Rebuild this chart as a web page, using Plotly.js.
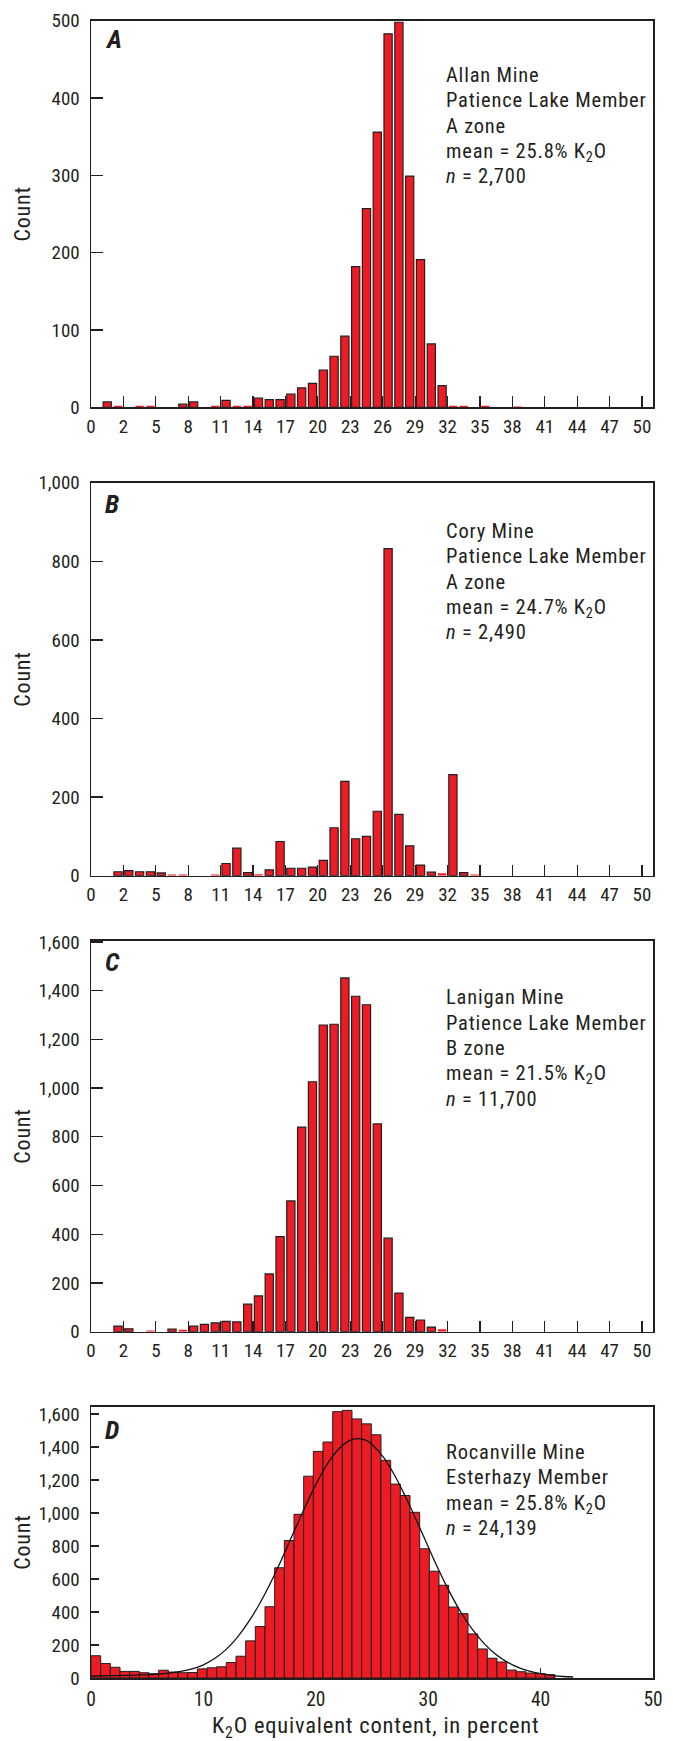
<!DOCTYPE html>
<html>
<head>
<meta charset="utf-8">
<script src="https://cdn.plot.ly/plotly-3.0.1.min.js"></script>
<style>
  html, body { margin: 0; padding: 0; background: #ffffff; }
  #chart { width: 673px; height: 1741px; }
  /* condensed face with slightly open tracking for the panel captions */
  .annotation-text { letter-spacing: 0.8px; }
</style>
</head>
<body>
<div id="chart"></div>
<script>
// ---- Data -------------------------------------------------------------
// Panels A–C: counts in 51 equal bins spanning 0–50 percent K2O.
const countsAllan = [
  0, 7, 2, 0, 2, 2, 0, 0, 4, 7,
  0, 2, 9, 2, 2, 12, 10, 10, 17, 25,
  31, 48, 66, 92, 182, 257, 356, 483, 498, 299,
  191, 82, 28, 2, 2, 0, 2, 0, 0, 1,
  0, 0, 0, 0, 0, 0, 0, 0, 0, 0,
  0
];
const countsCory = [
  0, 0, 10, 13, 10, 10, 7, 3, 3, 0,
  0, 3, 31, 70, 8, 4, 15, 87, 19, 19,
  22, 39, 122, 240, 94, 100, 164, 832, 156, 76,
  27, 9, 6, 257, 8, 3, 0, 0, 0, 0,
  0, 0, 0, 0, 0, 0, 0, 0, 0, 0,
  0
];
const countsLanigan = [
  0, 0, 23, 12, 0, 5, 0, 11, 8, 23,
  30, 36, 42, 40, 113, 147, 237, 390, 537, 840,
  1026, 1259, 1262, 1452, 1377, 1342, 853, 384, 158, 59,
  48, 19, 10, 0, 0, 0, 0, 0, 0, 0,
  0, 0, 0, 0, 0, 0, 0, 0, 0, 0,
  0
];
// Panel D: counts in 0.86-percent bins starting at 0.
const countsRocanville = [
  135, 88, 65, 40, 40, 32, 26, 47, 36, 32,
  33, 55, 62, 68, 94, 132, 225, 312, 432, 668,
  833, 992, 1223, 1373, 1430, 1614, 1622, 1570, 1540, 1474,
  1319, 1175, 1106, 1004, 783, 647, 562, 430, 390, 267,
  176, 120, 97, 48, 38, 30, 26, 20
];
// Fitted distribution curve drawn over panel D.
const curveX = [0, 2, 4, 6, 7, 8, 9, 10, 11, 12, 13, 14, 15, 16, 17, 18, 19, 20, 21, 22,
  23, 23.7, 24.5, 25, 26, 27, 28, 29, 30, 31, 32, 33, 34, 35, 36, 37, 38, 39, 40, 41, 42, 42.9];
const curveY = [12, 14, 18, 24, 30, 40, 56, 80, 118, 172, 245, 338, 450, 580, 725, 878, 1030, 1172, 1295, 1385,
  1438, 1450, 1440, 1415, 1340, 1230, 1095, 948, 795, 645, 508, 388, 288, 207, 144, 98, 64, 41, 26, 16, 9, 6];

const binTickLabels = ['0', '2', '5', '8', '11', '14', '17', '20', '23', '26', '29', '32', '35', '38', '41', '44', '47', '50'];
const percentTicks = [0, 10, 20, 30, 40, 50];

const panelLetters = ['A', 'B', 'C', 'D'];
const panelNotes = [
  ['Allan Mine', 'Patience Lake Member', 'A zone', 'mean = 25.8% K<sub>2</sub>O', '<i>n</i> = 2,700'],
  ['Cory Mine', 'Patience Lake Member', 'A zone', 'mean = 24.7% K<sub>2</sub>O', '<i>n</i> = 2,490'],
  ['Lanigan Mine', 'Patience Lake Member', 'B zone', 'mean = 21.5% K<sub>2</sub>O', '<i>n</i> = 11,700'],
  ['Rocanville Mine', 'Esterhazy Member', 'mean = 25.8% K<sub>2</sub>O', '<i>n</i> = 24,139']
];
const yTitle = 'Count';
const xTitle = 'K<sub>2</sub>O equivalent content, in percent';

// ---- Styling and geometry ----------------------------------------------
const W = 673, H = 1741;
const INK = '#231f20';
const RED = '#ed1c24';
const FONT = 'Roboto Condensed, Liberation Sans, sans-serif';

const plotLeft = 91, plotRight = 653;
const panels = [
  { top: 20.7,   bottom: 407.3,  yMax: 500,  dtick: 100, textTop: 54.3, letterY: 18.3, yTickLen: 12 },
  { top: 482.7,  bottom: 875.7,  yMax: 1000, dtick: 200, textTop: 48.3, letterY: 21.3, yTickLen: 12 },
  { top: 940.7,  bottom: 1331.7, yMax: 1605, dtick: 200, textTop: 56.6, letterY: 21.3, yTickLen: 12 },
  { top: 1406.7, bottom: 1678,   yMax: 1644, dtick: 200, textTop: 45.4, letterY: 23.7, yTickLen: 8 }
];
const lineGap = 25.3;
const xDomain = [plotLeft / W, plotRight / W];
const yDomain = p => [1 - p.bottom / H, 1 - p.top / H];
const py = px => 1 - px / H;

const nBins = 51;
const binWidth = 50 / nBins;
const binWidthD = 0.86;
const binTickVals = binTickLabels.map((_, k) => k * 50 / 17);

// ---- Traces -------------------------------------------------------------
function binnedBars(counts, idx) {
  const p = panels[idx];
  const pxPerUnit = (p.bottom - p.top) / p.yMax;
  const sfx = idx === 0 ? '' : String(idx + 1);
  return {
    type: 'bar',
    x: counts.map((_, i) => (i + 0.5) * binWidth),
    y: counts,
    width: binWidth * 0.76,
    xaxis: 'x' + sfx,
    yaxis: 'y' + sfx,
    marker: {
      color: RED,
      // very short bars read as plain red dashes, without an outline
      line: { color: INK, width: counts.map(v => v * pxPerUnit < 2.5 ? 0 : 1.2) }
    },
    hoverinfo: 'skip',
    showlegend: false
  };
}

const traces = [
  binnedBars(countsAllan, 0),
  binnedBars(countsCory, 1),
  binnedBars(countsLanigan, 2),
  {
    type: 'bar',
    x: countsRocanville.map((_, j) => (j + 0.5) * binWidthD),
    y: countsRocanville,
    width: binWidthD,
    xaxis: 'x4', yaxis: 'y4',
    marker: { color: RED, line: { color: INK, width: 1 } },
    hoverinfo: 'skip', showlegend: false
  },
  {
    type: 'scatter', mode: 'lines',
    x: curveX, y: curveY,
    xaxis: 'x4', yaxis: 'y4',
    line: { color: '#111111', width: 1.3, shape: 'spline', smoothing: 1 },
    hoverinfo: 'skip', showlegend: false
  }
];

// ---- Axes ---------------------------------------------------------------
const tickFont = { family: FONT, size: 19, color: INK };

function xAxis(idx) {
  const base = {
    domain: xDomain,
    anchor: idx === 0 ? 'y' : 'y' + (idx + 1),
    showline: true, mirror: true, linecolor: INK, linewidth: 1.5,
    ticks: 'inside', tickcolor: INK, tickwidth: 1.2,
    showgrid: false, zeroline: false,
    tickfont: tickFont,
    layer: 'below traces',
    fixedrange: true
  };
  if (idx < 3) {
    return Object.assign(base, {
      range: [0, 51.0],
      tickmode: 'array', tickvals: binTickVals, ticktext: binTickLabels,
      ticklen: 11, ticklabelstandoff: 1
    });
  }
  return Object.assign(base, {
    range: [0, 50],
    tickmode: 'array', tickvals: percentTicks, ticktext: percentTicks.map(String),
    ticklen: 10, ticklabelstandoff: 3,
    tickfont: { family: FONT, size: 19.5, color: INK }
  });
}
function yAxis(idx) {
  const p = panels[idx];
  return {
    domain: yDomain(p),
    anchor: idx === 0 ? 'x' : 'x' + (idx + 1),
    range: [0, p.yMax],
    tick0: 0, dtick: p.dtick,
    tickformat: ',d', separatethousands: true,
    showline: true, mirror: true, linecolor: INK, linewidth: 1.5,
    ticks: 'inside', ticklen: p.yTickLen, tickcolor: INK, tickwidth: 1.2,
    showgrid: false, zeroline: false,
    tickfont: tickFont,
    ticklabelstandoff: 6,
    layer: 'below traces',
    fixedrange: true
  };
}

// ---- Annotations --------------------------------------------------------
const noteFont = { family: FONT, size: 20.5, color: INK };
const annotations = [];
panels.forEach((p, idx) => {
  annotations.push({
    xref: 'paper', yref: 'paper',
    x: 103 / W, y: py(p.top + p.letterY),
    xanchor: 'left', yanchor: 'middle',
    text: '<b><i>' + panelLetters[idx] + '</i></b>',
    showarrow: false,
    font: { family: FONT, size: 26, color: INK }
  });
  panelNotes[idx].forEach((line, k) => {
    annotations.push({
      xref: 'paper', yref: 'paper',
      x: 444.3 / W, y: py(p.top + p.textTop + k * lineGap - 14),
      xanchor: 'left', yanchor: 'top',
      text: line, showarrow: false,
      font: noteFont
    });
  });
  annotations.push({
    xref: 'paper', yref: 'paper',
    x: 22.5 / W, y: py((p.top + p.bottom) / 2),
    xanchor: 'center', yanchor: 'middle',
    text: yTitle, textangle: -90, showarrow: false,
    font: { family: FONT, size: 22, color: INK }
  });
});
// x-axis title sits on the bottom edge of the page, below panel D
annotations.push({
  xref: 'paper', yref: 'paper',
  x: 375 / W, y: 0,
  xanchor: 'center', yanchor: 'bottom',
  borderpad: 0, yshift: -2,
  text: xTitle, showarrow: false,
  font: { family: FONT, size: 22.5, color: INK }
});

const layout = {
  width: W, height: H,
  margin: { l: 0, r: 0, t: 0, b: 0 },
  paper_bgcolor: '#ffffff', plot_bgcolor: '#ffffff',
  showlegend: false,
  font: { family: FONT, color: INK },
  xaxis: xAxis(0), yaxis: yAxis(0),
  xaxis2: xAxis(1), yaxis2: yAxis(1),
  xaxis3: xAxis(2), yaxis3: yAxis(2),
  xaxis4: xAxis(3), yaxis4: yAxis(3),
  annotations: annotations
};

Plotly.newPlot('chart', traces, layout, { staticPlot: true, displayModeBar: false });
</script>
</body>
</html>
